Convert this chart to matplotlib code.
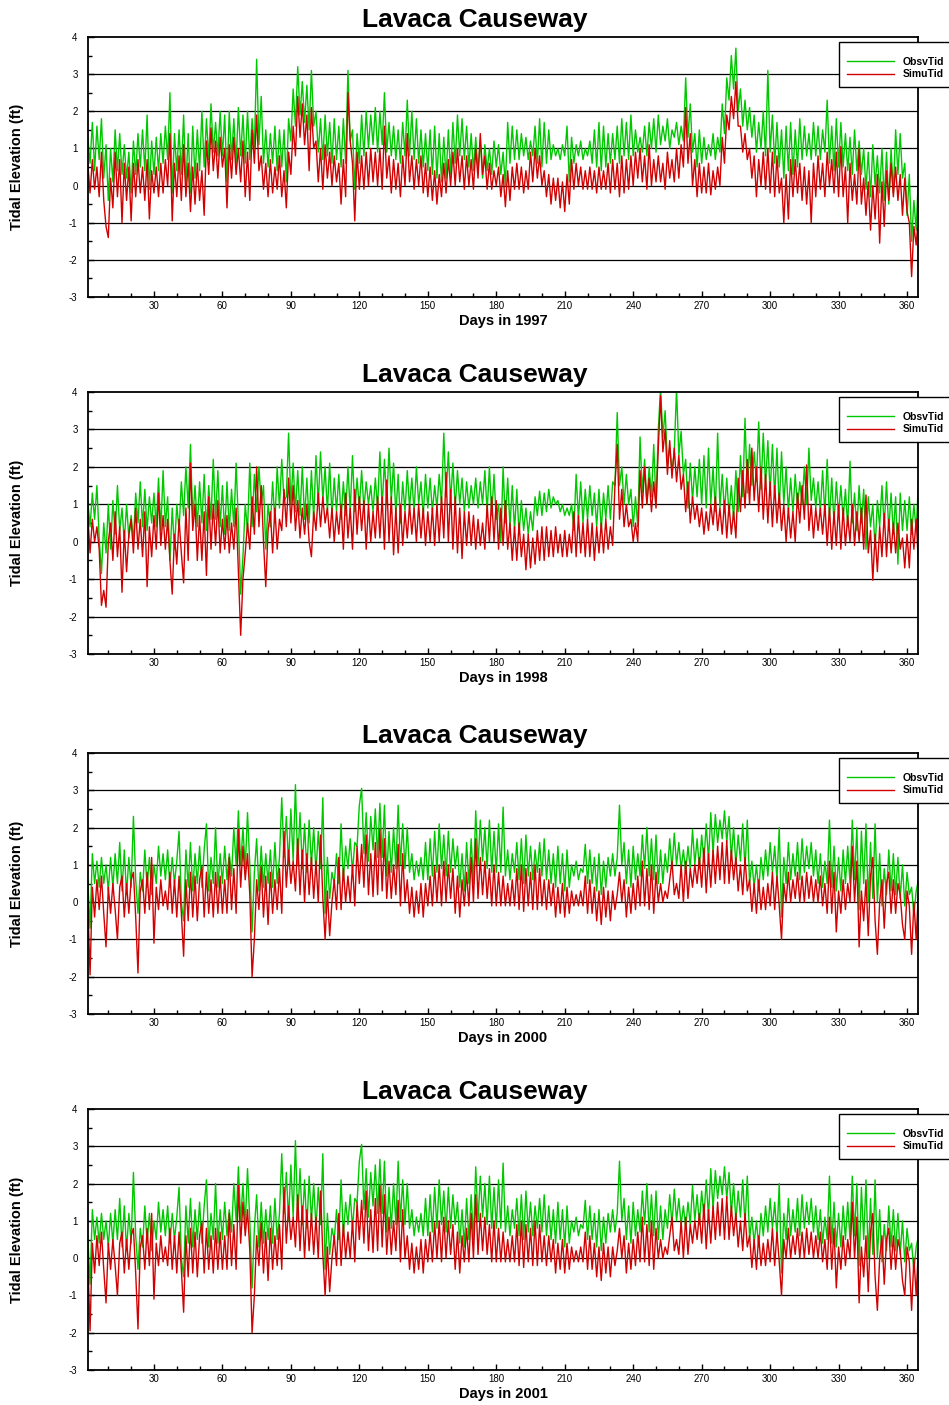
import numpy as np
import matplotlib
matplotlib.use("Agg")
import matplotlib.pyplot as plt
from matplotlib.ticker import MultipleLocator

plt.rcParams['font.family'] = ['Liberation Sans', 'DejaVu Sans']
plt.rcParams['axes.unicode_minus'] = False

STATION = "Lavaca Causeway"
YEARS = ["1997", "1998", "2000", "2001"]
LEGEND_LABELS = ["ObsvTid", "SimuTid"]
X_TICKS = [30, 60, 90, 120, 150, 180, 210, 240, 270, 300, 330, 360]
Y_TICKS = [-3, -2, -1, 0, 1, 2, 3, 4]

# Daily tidal elevation (ft), day 1 .. day 365, alternating high / low water.
obs_1997 = [
    1.3, 0.6, 1.7, 0.4, 1.6, 0.7, 1.8, 0.2, 1.1, -0.4,
    1.0, 0.1, 1.5, 0.4, 1.4, 0.3, 1.1, 0.2, 0.9, -0.2,
    1.2, 0.3, 1.4, 0.5, 1.5, 0.4, 1.9, -0.1, 1.2, 0.3,
    1.3, 0.4, 1.4, 0.6, 1.6, 0.7, 2.5, -0.2, 1.4, 0.4,
    1.5, 0.3, 1.9, 0.0, 1.4, -0.2, 1.6, 0.2, 1.5, 0.4,
    2.0, 0.5, 1.8, 0.7, 2.2, 0.9, 1.7, 0.8, 2.0, 0.8,
    1.9, 0.1, 2.0, 0.7, 1.8, 0.6, 2.1, 0.8, 1.9, 0.6,
    2.0, 0.7, 1.8, 1.0, 3.4, 1.1, 2.4, 0.6, 1.5, 0.5,
    1.4, 0.6, 1.6, 0.4, 1.5, 0.5, 1.5, 0.1, 1.8, 1.2,
    2.6, 1.6, 3.2, 1.9, 2.8, 1.7, 2.7, 1.5, 3.1, 1.6,
    2.0, 0.9, 1.8, 0.7, 1.9, 0.8, 1.7, 0.6, 1.8, 0.7,
    1.6, 0.5, 1.8, 0.6, 3.1, 1.2, 1.5, -0.1, 1.4, 0.6,
    1.9, 0.8, 2.0, 1.0, 1.9, 1.1, 2.1, 0.9, 2.0, 1.1,
    2.5, 0.9, 1.7, 0.8, 1.6, 0.7, 1.5, 0.6, 1.7, 0.8,
    2.3, 0.8, 2.0, 0.7, 1.8, 0.6, 1.5, 0.5, 1.4, 0.4,
    1.5, 0.3, 1.6, 0.2, 1.4, 0.1, 1.3, 0.2, 1.5, 0.3,
    1.7, 0.6, 1.9, 0.8, 1.8, 0.7, 1.6, 0.5, 1.4, 0.4,
    1.3, 0.4, 1.2, 0.2, 1.1, 0.4, 1.0, 0.3, 1.2, 0.5,
    1.1, 0.3, 0.9, 0.0, 1.7, 0.6, 1.6, 0.7, 1.5, 0.7,
    1.4, 0.8, 1.3, 0.7, 1.2, 0.8, 1.6, 0.6, 1.8, 0.5,
    1.7, 0.6, 1.5, 0.7, 1.1, 0.8, 1.0, 0.7, 1.1, 0.8,
    1.6, 0.1, 1.3, 0.6, 1.1, 0.8, 1.2, 0.7, 1.0, 0.8,
    1.2, 0.6, 1.5, 0.5, 1.7, 0.4, 1.6, 0.5, 1.4, 0.6,
    1.4, 0.7, 1.6, 0.6, 1.8, 0.8, 1.7, 0.7, 1.9, 0.8,
    1.5, 0.9, 1.3, 0.9, 1.6, 0.8, 1.7, 1.0, 1.8, 0.9,
    1.9, 1.1, 1.6, 1.2, 1.8, 1.0, 1.5, 1.3, 1.7, 1.1,
    1.6, 1.2, 2.9, 1.3, 2.2, 0.9, 1.4, 0.5, 1.5, 0.6,
    1.3, 0.7, 1.1, 0.8, 1.4, 0.7, 1.3, 0.9, 2.2, 1.4,
    2.9, 2.3, 3.5, 2.6, 3.7, 2.0, 2.6, 1.6, 2.3, 1.5,
    2.1, 1.3, 1.9, 0.9, 1.7, 1.0, 2.0, 0.8, 3.1, 0.9,
    1.9, 0.6, 1.7, 0.5, 1.5, 0.2, 1.6, 0.4, 1.7, 0.3,
    1.5, 0.5, 1.8, 0.7, 1.6, 0.8, 1.4, 0.7, 1.7, 0.8,
    1.6, 0.7, 1.5, 0.9, 2.3, 0.6, 1.6, 0.4, 1.8, 0.5,
    1.7, 0.5, 1.4, 0.4, 1.3, 0.3, 1.5, 0.4, 1.2, 0.3,
    1.0, -0.1, 0.9, -0.3, 1.1, 0.0, 0.8, -0.2, 1.0, -0.4,
    0.9, -0.5, 1.0, -0.2, 1.5, 0.3, 1.4, 0.2, 0.6, -0.8,
    0.3, -1.5, -0.4, -1.2, 0.3,
]

sim_1997 = [
    0.6, -0.2, 0.7, -0.1, 0.5, -0.3, 0.9, -0.4, -1.1, -1.4,
    0.2, -0.6, 0.9, -0.3, 0.7, -1.0, 0.6, -0.4, 0.5, -0.95,
    0.6, -0.3, 0.7, -0.2, 0.5, -0.4, 0.7, -0.9, 0.4, -0.2,
    0.5, -0.3, 0.6, -0.2, 0.7, 0.0, 1.4, -0.95, 0.6, -0.3,
    0.8, -0.4, 1.1, -0.3, 0.6, -0.7, 0.5, -0.5, 0.6, -0.4,
    0.4, -0.8, 1.2, 0.3, 1.55, 0.4, 1.2, 0.2, 1.3, 0.5,
    1.0, -0.6, 1.1, 0.2, 1.3, 0.3, 1.0, 0.1, 1.2, -0.3,
    0.9, -0.4, 1.5, 0.6, 1.9, 0.4, 0.8, -0.1, 0.6, -0.3,
    0.7, -0.2, 0.5, -0.1, 0.8, -0.3, 0.4, -0.6, 0.9, 0.3,
    1.6, 0.8, 2.4, 1.3, 2.2, 1.1, 1.9, 0.4, 2.1, 1.0,
    1.2, 0.1, 1.0, -0.1, 1.1, 0.2, 0.9, 0.0, 0.8, 0.1,
    0.6, -0.5, 0.7, -0.3, 2.5, 1.2, 0.6, -0.95, 0.9, -0.1,
    0.8, -0.1, 0.9, 0.0, 1.0, 0.1, 0.9, 0.0, 1.0, -0.1,
    1.6, 0.2, 0.8, -0.2, 0.7, -0.1, 0.6, -0.3, 0.8, 0.0,
    1.4, 0.1, 0.8, -0.1, 0.7, 0.0, 0.8, -0.2, 0.6, -0.3,
    0.5, -0.4, 0.4, -0.5, 0.3, -0.3, 0.6, -0.2, 0.7, 0.0,
    0.9, 0.0, 1.0, 0.1, 0.8, -0.1, 0.8, 0.0, 0.7, -0.1,
    1.0, 0.2, 1.4, 0.3, 0.8, -0.1, 0.6, -0.1, 0.4, 0.0,
    0.5, -0.3, 0.3, -0.57, 0.4, -0.4, 0.5, -0.1, 0.6, -0.1,
    0.5, -0.2, 0.4, -0.1, 0.9, 0.1, 1.0, 0.2, 0.8, 0.0,
    0.4, -0.3, 0.3, -0.5, 0.2, -0.4, 0.2, -0.6, 0.1, -0.7,
    0.3, -0.5, 0.7, -0.1, 0.6, 0.0, 0.5, -0.1, 0.4, -0.1,
    0.5, -0.1, 0.4, -0.2, 0.5, -0.1, 0.4, -0.1, 0.6, -0.2,
    0.7, -0.1, 0.6, -0.3, 0.8, -0.2, 0.7, -0.1, 0.8, 0.0,
    0.9, 0.2, 1.0, 0.1, 0.8, -0.1, 1.1, 0.0, 0.7, 0.1,
    0.8, 0.1, 0.6, -0.1, 0.9, 0.2, 0.7, 0.1, 1.0, 0.2,
    1.1, 0.5, 2.1, 0.6, 1.4, 0.0, 0.7, -0.3, 0.6, -0.2,
    0.5, -0.2, 0.6, -0.25, 0.4, -0.1, 0.5, 0.0, 1.3, 0.6,
    1.9, 1.5, 2.4, 1.8, 2.8, 1.6, 1.6, 0.9, 1.4, 0.7,
    1.0, 0.2, 0.8, -0.3, 0.7, 0.0, 0.9, -0.1, 1.0, -0.2,
    0.9, -0.3, 0.8, -0.2, 0.2, -1.0, 0.3, -0.9, 0.7, -0.3,
    0.7, -0.2, 0.6, -0.4, 0.5, -0.5, 0.4, -1.0, 0.6, -0.3,
    0.8, -0.1, 0.6, -0.3, 0.9, 0.0, 0.7, -0.2, 0.9, -0.3,
    1.05, -0.3, 0.5, -1.0, 0.6, -0.4, 0.3, -0.5, 1.0, -0.5,
    0.2, -0.8, 0.1, -1.2, 0.0, -0.9, 0.3, -1.55, 0.1, -1.1,
    0.4, -0.4, 0.6, -0.3, 0.5, -0.4, 0.3, -0.8, 0.2, -0.7,
    -1.0, -2.45, -1.1, -1.6, -0.8,
]

obs_1998 = [
    1.1, 0.4, 1.3, 0.6, 1.5, 0.1, -0.85, 0.5, -0.3, 1.0,
    -0.2, 1.1, 0.2, 1.5, 0.3, 0.9, 0.0, 1.0, 0.1, 0.7,
    0.0, 1.3, 0.5, 1.6, 0.4, 1.4, 0.3, 1.2, 0.5, 1.3,
    0.4, 1.7, 0.3, 1.9, 0.4, 1.2, -0.5, 0.9, -0.2, 1.0,
    0.3, 1.6, 0.7, 2.0, 0.9, 2.6, 0.6, 1.5, 0.4, 1.6,
    0.5, 1.8, 0.3, 1.5, 0.6, 2.2, 0.6, 1.9, 0.4, 1.5,
    0.2, 1.6, 0.3, 1.4, 0.4, 2.1, 0.5, -1.4, -0.4, 1.0,
    0.3, 2.1, 0.4, 1.8, 0.8, 2.0, 1.0, 1.5, -0.2, 1.0,
    0.4, 1.6, 0.5, 2.0, 0.9, 2.2, 1.1, 1.2, 2.9, 1.0,
    2.1, 0.8, 1.9, 0.7, 2.0, 0.6, 1.7, 0.5, 1.9, 0.6,
    2.3, 1.0, 2.4, 1.1, 2.0, 0.8, 2.1, 0.7, 1.7, 0.8,
    1.8, 0.6, 1.6, 0.7, 2.0, 0.8, 2.3, 0.8, 1.7, 0.9,
    1.9, 0.9, 1.6, 1.0, 1.5, 0.8, 1.7, 0.9, 2.4, 0.9,
    2.2, 1.0, 2.5, 1.1, 2.1, 0.7, 1.8, 0.5, 1.6, 0.8,
    1.9, 0.9, 1.7, 0.8, 2.0, 1.0, 1.6, 0.7, 1.8, 0.9,
    1.7, 0.8, 1.5, 0.9, 1.8, 1.0, 2.9, 1.2, 2.4, 1.1,
    2.1, 0.9, 1.9, 1.0, 1.7, 0.8, 1.6, 0.9, 1.5, 1.0,
    1.7, 0.9, 1.6, 1.0, 1.9, 0.8, 2.0, 0.7, 1.8, 0.6,
    1.0, 0.0, 2.0, 0.5, 1.7, 0.4, 1.5, 0.3, 1.4, 0.2,
    1.1, 0.3, 0.9, 0.2, 0.8, 0.3, 1.2, 0.7, 1.35, 0.7,
    1.3, 0.8, 1.4, 0.9, 1.2, 1.0, 1.1, 0.8, 1.0, 0.7,
    0.9, 0.7, 1.0, 0.3, 1.8, 0.6, 1.6, 0.5, 1.4, 0.6,
    1.5, 0.7, 1.3, 0.4, 1.4, 0.3, 1.3, 0.6, 1.5, 0.6,
    1.6, 1.5, 3.45, 1.5, 2.0, 1.0, 1.8, 1.0, 1.4, 0.4,
    1.2, 0.4, 2.8, 1.3, 2.2, 1.0, 2.0, 1.2, 2.6, 1.0,
    3.0, 4.1, 2.8, 3.5, 2.1, 2.5, 1.9, 2.4, 4.1, 2.3,
    2.95, 1.8, 2.2, 0.9, 2.1, 1.1, 2.0, 1.2, 2.2, 1.0,
    2.3, 0.9, 2.5, 1.0, 2.0, 0.8, 2.9, 0.9, 1.8, 0.8,
    1.7, 0.7, 1.5, 0.6, 1.9, 0.8, 2.3, 1.2, 3.3, 1.3,
    2.6, 1.5, 2.4, 1.6, 3.2, 1.4, 2.9, 1.5, 2.7, 1.3,
    2.6, 1.2, 2.5, 0.9, 2.4, 1.0, 2.0, 0.8, 1.7, 0.8,
    1.8, 0.9, 1.6, 1.0, 2.0, 1.0, 2.5, 1.1, 1.7, 0.9,
    1.6, 0.8, 1.9, 0.7, 2.2, 0.6, 1.7, 0.5, 1.6, 0.7,
    1.5, 0.6, 1.4, 0.4, 2.15, 0.5, 1.3, 0.3, 1.5, 0.5,
    1.4, -0.2, 1.2, 0.4, 1.0, -0.2, 1.1, 0.4, 1.5, 0.4,
    1.6, 0.3, 1.3, 0.2, 1.2, -0.6, 1.3, 0.3, 1.1, 0.3,
    1.2, 0.2, 1.0, 0.3, 1.6,
]

sim_1998 = [
    0.7, -0.3, 0.6, 0.0, 0.4, -0.2, -1.7, -1.3, -1.75, 0.0,
    0.5, -0.5, 0.8, -0.4, 0.4, -1.35, 0.3, -0.8, 0.2, 0.6,
    -0.3, 0.9, -0.2, 0.6, -0.4, 0.8, -1.2, 0.4, -0.4, 0.7,
    -0.2, 1.3, -0.1, 0.7, -0.2, 0.6, -0.5, -1.4, 0.2, -0.6,
    0.6, -0.3, -1.1, 0.9, -0.5, 2.1, 0.3, 1.0, -0.5, 0.7,
    -0.5, 0.8, -0.9, 1.2, -0.2, 1.0, -0.1, 1.1, -0.3, 0.6,
    -0.2, 0.7, -0.3, 0.5, -0.2, 0.9, -0.8, -2.5, -1.0, -0.3,
    0.5, -0.2, 1.2, 0.2, 2.0, 0.4, 1.5, 0.0, -1.2, 0.3,
    0.8, -0.3, 0.9, -0.2, 0.6, 0.3, 1.4, 0.4, 1.7, 0.5,
    1.5, 0.3, 1.1, 0.1, 0.9, 0.2, 1.0, 0.0, -0.4, 0.8,
    0.3, 1.3, 0.4, 1.2, 0.5, 0.9, 0.1, 0.9, 0.0, 0.8,
    0.2, 1.0, -0.2, 1.3, 0.1, 0.9, -0.2, 1.4, 0.2, 1.2,
    0.3, 1.1, -0.2, 1.0, 0.0, 0.8, 0.1, 1.2, 0.1, 1.2,
    -0.2, 1.65, 0.0, 1.2, -0.35, 0.9, -0.3, 1.0, -0.1, 0.8,
    0.1, 1.0, 0.2, 0.9, 0.0, 1.0, 0.1, 0.9, -0.1, 0.8,
    0.0, 0.9, -0.1, 1.0, 0.0, 1.2, 0.1, 1.85, 0.0, 1.4,
    -0.2, 1.2, -0.3, 0.9, -0.45, 0.8, -0.1, 0.8, -0.1, 0.7,
    -0.2, 0.6, -0.1, 0.5, -0.2, 1.0, 0.0, 1.2, 0.0, 1.1,
    -0.2, 0.9, -0.1, 1.1, -0.2, 0.5, -0.5, 0.4, -0.5, 0.5,
    -0.4, 0.2, -0.75, 0.2, -0.7, 0.1, -0.6, 0.3, -0.5, 0.4,
    -0.5, 0.4, -0.4, 0.3, -0.4, 0.4, -0.3, 0.2, -0.4, 0.3,
    -0.4, 0.2, -0.3, 0.8, -0.4, 0.7, -0.3, 0.5, -0.4, 0.6,
    -0.4, 0.5, -0.5, 0.4, -0.3, 0.5, -0.3, 0.6, -0.2, 0.4,
    -0.1, 1.5, 2.6, 0.6, 1.4, 0.4, 1.0, 0.4, 0.6, 0.0,
    0.5, 0.0, 1.9, 0.9, 2.0, 1.0, 1.7, 0.8, 1.6, 0.9,
    2.5, 3.9, 2.4, 3.0, 1.8, 2.7, 1.7, 2.5, 1.6, 2.3,
    1.4, 1.8, 0.8, 1.6, 0.5, 1.2, 0.6, 1.0, 0.4, 0.9,
    0.2, 0.8, 0.3, 1.0, 0.45, 1.2, 0.3, 0.9, 0.2, 1.1,
    0.1, 1.0, 0.2, 0.8, 0.1, 1.7, 0.8, 1.9, 0.9, 2.2,
    1.0, 2.5, 1.1, 2.0, 0.8, 2.0, 0.6, 1.8, 0.5, 1.6,
    0.4, 1.5, 0.5, 1.3, 0.3, 1.0, 0.0, 0.9, 0.1, 0.8,
    0.0, 1.3, 0.5, 1.5, 0.6, 2.05, 0.3, 1.0, 0.1, 0.9,
    0.3, 0.9, 0.2, 1.0, -0.1, 0.9, -0.2, 0.8, -0.1, 1.0,
    -0.2, 0.9, -0.1, 0.7, 0.0, 1.0, -0.1, 0.8, 0.0, 0.9,
    -0.2, 1.25, -0.3, 0.3, -1.03, 0.2, -0.8, 0.4, -0.4, 0.76,
    -0.4, 0.6, -0.3, 0.5, -0.3, 0.5, -0.2, 0.1, -0.7, 0.2,
    -0.7, 0.6, -0.2, 0.6, -0.6,
]

obs_2000 = [
    0.6, -0.7, 1.3, 0.5, 1.1, 0.4, 1.2, 0.5, 1.0, 0.3,
    1.2, 0.4, 1.3, 0.5, 1.6, 0.3, 1.4, 0.2, 1.2, 0.4,
    2.3, 0.6, -0.3, 0.8, 0.3, 1.4, 0.4, 1.2, 0.2, 1.0,
    0.5, 1.5, 0.7, 1.3, 0.6, 1.4, 0.4, 1.2, 0.5, 1.1,
    1.9, 0.0, -0.5, 1.4, 0.4, 1.6, 0.3, 1.3, 0.5, 1.5,
    0.4, 1.4, 2.1, 0.3, 1.2, 0.5, 2.0, 0.4, 1.3, 0.5,
    1.5, 0.6, 1.3, 0.7, 2.0, 1.0, 2.45, 1.0, 2.0, 0.9,
    2.4, 1.0, -0.8, 0.8, 1.7, 0.3, 1.5, 0.4, 1.3, 0.5,
    1.4, 0.4, 1.6, 0.5, 1.2, 2.8, 1.2, 2.3, 1.0, 2.5,
    1.1, 3.15, 1.0, 2.4, 0.9, 2.1, 0.8, 2.2, 1.0, 2.0,
    0.8, 1.9, 0.9, 2.8, -0.3, 1.2, 0.1, 0.8, 0.5, 1.3,
    0.5, 2.1, 0.6, 1.5, 0.9, 1.7, 0.8, 1.6, 1.5, 2.6,
    3.05, 1.3, 2.4, 1.1, 2.3, 1.4, 2.5, 1.2, 2.65, 1.2,
    2.6, 0.7, 1.9, 0.8, 2.0, 0.9, 2.6, 1.0, 2.1, 0.9,
    2.0, 0.8, 1.3, 0.6, 1.1, 0.7, 1.2, 0.6, 1.6, 0.6,
    1.7, 0.7, 1.9, 0.8, 2.1, 0.9, 1.8, 0.7, 1.9, 0.8,
    1.7, 0.9, 1.5, 0.4, 1.3, 0.3, 1.6, 0.5, 1.7, 0.5,
    2.45, 1.0, 2.2, 1.1, 2.0, 0.9, 2.2, 0.8, 1.9, 0.8,
    2.1, 0.8, 2.55, 0.7, 1.4, 0.6, 1.3, 0.8, 1.6, 0.6,
    1.7, 0.5, 1.8, 0.7, 1.5, 0.6, 1.4, 0.8, 1.6, 0.7,
    1.7, 0.6, 1.4, 0.5, 1.3, 0.4, 1.5, 0.5, 1.3, 0.3,
    1.4, 0.4, 1.0, 0.7, 1.1, 0.6, 0.9, 0.8, 1.55, 0.5,
    1.4, 0.5, 1.2, 0.3, 1.3, 0.2, 1.1, 0.4, 1.2, 0.7,
    1.3, 0.7, 1.2, 2.6, 1.0, 1.6, 0.5, 1.4, 0.4, 1.5,
    0.6, 1.3, 0.7, 1.8, 0.9, 2.0, 0.7, 1.7, 0.6, 1.8,
    0.5, 1.4, 0.5, 1.3, 0.8, 1.7, 0.9, 1.85, 1.0, 1.6,
    0.9, 1.4, 0.8, 1.5, 0.9, 1.95, 1.0, 1.7, 0.9, 1.8,
    1.1, 2.1, 1.1, 2.4, 1.3, 2.35, 1.6, 2.2, 1.7, 2.45,
    1.6, 2.3, 1.2, 2.0, 1.0, 1.8, 1.1, 2.1, 0.9, 2.2,
    0.5, 1.1, 0.4, 1.0, 0.3, 1.2, 0.6, 1.4, 0.7, 1.6,
    0.8, 1.5, 0.6, 2.0, -0.4, 1.2, 0.5, 1.6, 0.6, 1.3,
    0.7, 1.6, 0.6, 1.7, 0.8, 1.5, 0.9, 1.6, 0.7, 1.4,
    0.5, 1.3, 0.4, 1.1, 0.5, 2.2, 0.4, 1.5, 0.3, 1.2,
    0.3, 1.4, 0.5, 1.5, 0.5, 2.2, 0.6, 2.0, -0.2, 1.9,
    0.5, 2.1, 0.0, 1.6, 0.1, 2.1, 0.0, 1.3, -0.1, 0.9,
    0.2, 1.4, 0.3, 1.3, 0.2, 1.2, 0.1, 1.0, -0.1, 0.8,
    0.2, 0.4, -0.35, 0.3, 0.6,
]

sim_2000 = [
    0.0, -1.95, 0.4, -0.4, 0.6, -0.2, 0.7, -0.3, -1.2, 0.4,
    -0.3, 0.5, -0.2, -1.0, 0.4, 0.7, -0.4, 0.5, -0.3, 0.6,
    0.8, -0.4, -1.9, 0.3, 0.6, -0.3, 0.8, -0.2, 1.2, -1.1,
    0.4, -0.2, 0.6, -0.1, 0.3, -0.2, 0.8, -0.3, 0.6, -0.4,
    0.7, -0.3, -1.45, 0.6, -0.5, 0.8, -0.4, 0.7, -0.5, 0.6,
    0.95, -0.4, 0.8, -0.3, 0.6, -0.4, 0.8, -0.3, 0.7, -0.3,
    0.6, -0.3, 1.2, -0.2, 0.9, -0.3, 1.95, 0.4, 1.5, 0.6,
    1.3, 0.2, -2.0, -1.0, 0.6, -0.2, 0.95, -0.4, 0.7, -0.6,
    0.8, -0.3, 0.6, -0.2, 0.9, -0.3, 1.9, 0.4, 1.4, 0.5,
    1.1, 0.3, 1.7, 0.2, 1.4, 0.0, 1.3, 0.2, 1.2, 0.1,
    1.1, 0.0, 1.8, 0.1, -1.0, 0.3, -0.9, 0.0, 0.6, -0.2,
    1.2, -0.2, 0.9, 0.0, 0.7, 0.0, 1.0, -0.1, 1.5, 0.5,
    1.55, 0.4, 1.8, 0.2, 1.3, 0.15, 1.6, 0.2, 1.95, 0.3,
    1.7, 0.1, 1.1, 0.1, 1.0, 0.2, 1.55, -0.1, 1.3, 0.0,
    0.6, -0.3, 0.4, -0.4, 0.3, -0.3, 0.5, -0.4, 0.5, -0.1,
    0.7, -0.1, 0.95, 0.0, 1.0, -0.1, 1.1, 0.0, 1.0, 0.1,
    0.9, -0.3, 0.7, -0.4, 0.6, -0.1, 0.8, -0.1, 1.2, 0.0,
    1.7, 0.1, 1.2, 0.2, 1.1, 0.1, 0.9, -0.1, 1.0, -0.1,
    0.8, -0.1, 0.7, -0.1, 0.5, -0.1, 0.6, -0.1, 0.9, -0.2,
    1.0, -0.25, 0.9, -0.1, 0.8, -0.2, 1.0, -0.2, 0.9, -0.1,
    0.6, -0.2, 0.6, -0.1, 0.5, -0.4, 0.4, -0.3, 0.5, -0.4,
    0.4, -0.3, 0.3, -0.1, 0.2, -0.1, 0.3, -0.1, 0.7, -0.3,
    0.6, -0.3, 0.4, -0.5, 0.3, -0.6, 0.4, -0.4, 0.3, -0.5,
    0.3, -0.2, 0.2, 0.8, 0.0, 0.6, -0.4, 0.4, -0.3, 0.5,
    -0.2, 0.7, -0.1, 1.1, -0.1, 0.9, -0.2, 1.0, -0.3, 0.8,
    0.0, 0.5, 0.0, 0.3, 0.1, 0.6, 1.1, 0.2, 0.5, 0.1,
    1.0, 0.0, 1.1, 0.1, 0.9, 0.4, 1.0, 0.5, 1.2, 0.4,
    1.45, 0.25, 1.3, 0.4, 1.4, 0.5, 1.5, 0.6, 1.6, 0.5,
    1.65, 0.5, 1.4, 0.6, 1.2, 0.3, 1.0, 0.2, 1.2, 0.3,
    0.6, -0.25, 0.5, -0.3, 0.6, -0.2, 0.4, -0.2, 0.5, -0.1,
    0.8, -0.2, 0.7, -0.1, -1.0, 0.5, 0.0, 0.8, 0.0, 0.6,
    0.1, 0.8, 0.0, 0.7, 0.0, 0.8, 0.1, 0.7, 0.0, 0.6,
    0.0, 0.7, -0.1, 0.5, -0.3, 1.1, -0.3, 0.8, -0.8, 0.3,
    -0.3, 0.6, -0.2, 0.5, 0.0, 1.5, 0.0, 1.1, -1.2, 0.3,
    -0.5, 0.6, -0.9, 0.7, 1.2, -0.5, -1.4, 0.0, 0.6, -0.7,
    0.5, 0.8, -0.3, 0.6, -0.3, 0.5, 0.2, -0.6, -1.0, 0.3,
    -0.1, -1.4, 0.0, -1.0, 0.3,
]

# The 2001 record carries the same series as 2000.
obs_2001 = obs_2000
sim_2001 = sim_2000

OBS = [obs_1997, obs_1998, obs_2000, obs_2001]
SIM = [sim_1997, sim_1998, sim_2000, sim_2001]

GREEN = "#00C800"
RED = "#D20000"

W, H = 949, 1405
fig = plt.figure(figsize=(W / 100, H / 100), dpi=100)

left_px, right_px = 88, 918
tops = [37, 392, 753, 1109]
bottoms = [297, 654, 1014, 1370]

for i, year in enumerate(YEARS):
    top, bot = tops[i], bottoms[i]
    h_px = bot - top
    ax = fig.add_axes([left_px / W, 1 - bot / H,
                       (right_px - left_px) / W, h_px / H])

    obs = np.asarray(OBS[i], dtype=float)
    sim = np.asarray(SIM[i], dtype=float)
    ax.plot(np.arange(1, len(obs) + 1), obs, color=GREEN, lw=1.0,
            label=LEGEND_LABELS[0], zorder=3)
    ax.plot(np.arange(1, len(sim) + 1), sim, color=RED, lw=1.0,
            label=LEGEND_LABELS[1], zorder=4)

    for yv in Y_TICKS[1:-1]:
        ax.axhline(yv, color="black", lw=0.9, zorder=2)

    ax.set_xlim(1.1, 364.8)
    ax.set_ylim(Y_TICKS[0], Y_TICKS[-1])
    ax.set_xticks(X_TICKS)
    ax.set_yticks(Y_TICKS)
    ax.xaxis.set_minor_locator(MultipleLocator(10))
    ax.yaxis.set_minor_locator(MultipleLocator(0.5))
    ax.tick_params(which="both", direction="in", top=False, right=False,
                   colors="black", labelsize=7)
    ax.tick_params(which="major", length=4.5, width=1.0)
    ax.tick_params(which="minor", length=3.0, width=1.0)
    ax.tick_params(axis="y", pad=7.5)
    ax.tick_params(axis="x", pad=3)
    for sp in ax.spines.values():
        sp.set_linewidth(1.3)
        sp.set_zorder(5)

    leg = ax.legend(loc="upper left",
                    bbox_to_anchor=((839 - left_px) / (right_px - left_px),
                                    1 - 4.5 / h_px),
                    borderaxespad=0, prop={"weight": "bold", "size": 7.5},
                    title=" ", title_fontsize=3.5,
                    frameon=True, fancybox=False, framealpha=1,
                    edgecolor="black", handlelength=4.6, handletextpad=0.8,
                    borderpad=0.72, labelspacing=0.25)
    leg.get_frame().set_linewidth(1.0)
    leg.set_zorder(10)

    fig.text(0.5, 1 - (top - 17) / H, STATION, ha="center", va="center",
             fontsize=19, fontweight="bold")
    fig.text((left_px + right_px) / 2 / W, 1 - (bot + 24) / H,
             f"Days in {year}", ha="center", va="center",
             fontsize=10.5, fontweight="bold")
    fig.text(17 / W, 1 - (top + bot) / 2 / H, "Tidal Elevation (ft)",
             ha="center", va="center", rotation=90,
             fontsize=10.5, fontweight="bold")

fig.savefig("out.png", dpi=100)
